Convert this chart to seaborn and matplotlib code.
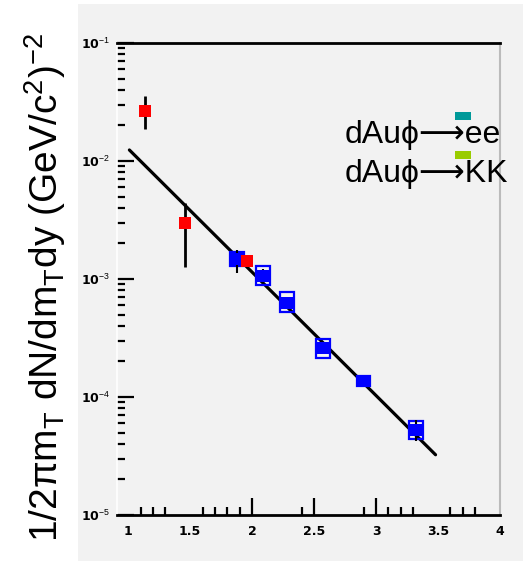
import numpy as np
import pandas as pd
import matplotlib
matplotlib.use("Agg")
import matplotlib.pyplot as plt
import seaborn as sns
from matplotlib.patches import Rectangle
from matplotlib.ticker import FixedLocator, FuncFormatter, LogLocator

# ---- data ----
kk_x = [1.137, 1.46, 1.96]
kk_y = [0.0265, 0.00298, 0.00142]
kk_lo = [0.0187, 0.00126, 0.00130]
kk_hi = [0.0356, 0.0044, 0.00155]

ee_x = [1.88, 2.09, 2.28, 2.57, 2.90, 3.32]
ee_y = [0.00148, 0.00106, 0.00063, 0.00026, 0.000137, 5.25e-5]
ee_lo = [0.00112, 0.00092, 0.00056, 0.00023, 0.000125, 4.2e-5]
ee_hi = [0.00175, 0.00122, 0.00071, 0.00029, 0.000150, 6.4e-5]
ee_sys_lo = [0.00129, 0.00089, 0.000525, 0.000214, 0.000125, 4.41e-5]
ee_sys_hi = [0.00169, 0.00129, 0.000776, 0.00031, 0.000150, 6.27e-5]

fit_x = [1.01, 3.48]
fit_y = [0.0124, 3.24e-5]

x_major = [1, 1.5, 2, 2.5, 3, 3.5, 4]
x_minor = [1.1, 1.2, 1.3, 1.6, 1.7, 1.8, 1.9, 2.4, 2.9, 3.1, 3.2, 3.3, 3.6, 3.7, 3.8]
x_labels = ["1", "1.5", "2", "2.5", "3", "3.5", "4"]
y_major = [1e-5, 1e-4, 1e-3, 1e-2, 1e-1]

legend_labels = ["dAu\u03d5\u27f6ee", "dAu\u03d5\u27f6KK"]
legend_colors = ["#009999", "#99cc00"]

sns.set_theme(style="white")
plt.rcParams["font.family"] = ["Liberation Sans", "DejaVu Sans"]
plt.rcParams["mathtext.fontset"] = "custom"
plt.rcParams["mathtext.rm"] = "Liberation Sans"
plt.rcParams["mathtext.it"] = "Liberation Sans:italic"
plt.rcParams["text.color"] = "black"
plt.rcParams["xtick.color"] = "black"
plt.rcParams["ytick.color"] = "black"

W, H = 523, 561
fig = plt.figure(figsize=(W / 100, H / 100), dpi=100)
fig.patch.set_facecolor("white")
fig.patches.append(Rectangle((78 / W, 0), 1 - 78 / W, (H - 4) / H,
                             transform=fig.transFigure, facecolor="#f2f2f2",
                             edgecolor="none", zorder=-10))

ax = fig.add_axes([117 / W, (H - 515) / H, (500 - 117) / W, (515 - 43) / H])
ax.set_facecolor("#f2f2f2")
ax.set_yscale("log")
ax.set_xlim(0.91, 4.0)
ax.set_ylim(1e-5, 1e-1)

# fit line
sns.lineplot(x=fit_x, y=fit_y, ax=ax, color="black", lw=2.3, zorder=3)

# ee systematic boxes
ee_sys_h = np.array(ee_sys_hi) - np.array(ee_sys_lo)
ax.bar(ee_x, ee_sys_h, bottom=ee_sys_lo, width=0.11, fill=False,
       edgecolor="#0000ff", lw=1.6, zorder=4)
# error bars
ax.vlines(ee_x, ee_lo, ee_hi, color="black", lw=1.5, zorder=4)
ax.vlines(kk_x, kk_lo, kk_hi, color="black", lw=2.0, zorder=4)

df_ee = pd.DataFrame({"x": ee_x, "y": ee_y})
df_kk = pd.DataFrame({"x": kk_x, "y": kk_y})
sns.scatterplot(data=df_ee, x="x", y="y", ax=ax, marker="s", s=75,
                color="#0000ff", edgecolor="none", zorder=5)
sns.scatterplot(data=df_kk, x="x", y="y", ax=ax, marker="s", s=70,
                color="#ff0000", edgecolor="none", zorder=6)
ax.set_xlabel("")
ax.set_ylabel("")

# ticks
ax.xaxis.set_major_locator(FixedLocator(x_major))
ax.xaxis.set_minor_locator(FixedLocator(x_minor))
ax.set_xticklabels(x_labels)
ax.yaxis.set_major_locator(FixedLocator(y_major))
ax.yaxis.set_minor_locator(LogLocator(base=10, subs=np.arange(2, 10)))
ax.yaxis.set_minor_formatter(FuncFormatter(lambda v, p: ""))
ax.yaxis.set_major_formatter(FuncFormatter(
    lambda v, p: r"10$^{%d}$" % int(round(np.log10(v)))))
ax.tick_params(axis="both", which="major", direction="in", length=12,
               width=1.6, color="black", labelsize=9, labelcolor="black")
ax.tick_params(axis="both", which="minor", direction="in", length=6,
               width=1.6, color="black")
ax.tick_params(axis="x", which="major", pad=7)
ax.tick_params(axis="y", which="major", pad=5)
ax.tick_params(top=False, right=False, which="both")
ax.tick_params(left=True, bottom=True, which="both")
for t, v in zip(ax.xaxis.get_major_ticks(), x_major):
    if v in (1, 1.5, 3.5, 4):
        t.tick1line.set_markersize(0)
for lab in ax.get_xticklabels() + ax.get_yticklabels():
    lab.set_fontweight("bold")
    lab.set_family(["DejaVu Sans"])

for s in ["top", "bottom"]:
    ax.spines[s].set_color("black")
    ax.spines[s].set_linewidth(2.0)
ax.spines["right"].set_color("#bbbbbb")
ax.spines["right"].set_linewidth(1.5)
ax.spines["left"].set_color("white")
ax.spines["left"].set_linewidth(1.2)

# legend-like text
ax_w, ax_h = 500 - 117, 515 - 43
for i, (lab, col) in enumerate(zip(legend_labels, legend_colors)):
    base = [143, 182][i]
    ax.text((345 - 117) / ax_w, (515 - base) / ax_h, lab,
            transform=ax.transAxes, fontsize=23, va="baseline", ha="left",
            color="black", family=["Liberation Sans", "DejaVu Sans"],
            clip_on=False, zorder=7)
    top = [112, 151][i]
    ax.add_patch(Rectangle(((455 - 117) / ax_w, (515 - top - 8) / ax_h),
                           16 / ax_w, 8 / ax_h, transform=ax.transAxes,
                           facecolor=col, edgecolor="none", clip_on=False,
                           zorder=8))

fig.text(45 / W, 1 - 288 / H,
         r"1/2πm$_{\mathrm{T}}$ dN/dm$_{\mathrm{T}}$dy (GeV/c$^{2}$)$^{-2}$",
         rotation=90, ha="center", va="center", fontsize=28, color="black",
         family=["Liberation Sans", "DejaVu Sans"])

fig.savefig("out.png", dpi=100)
